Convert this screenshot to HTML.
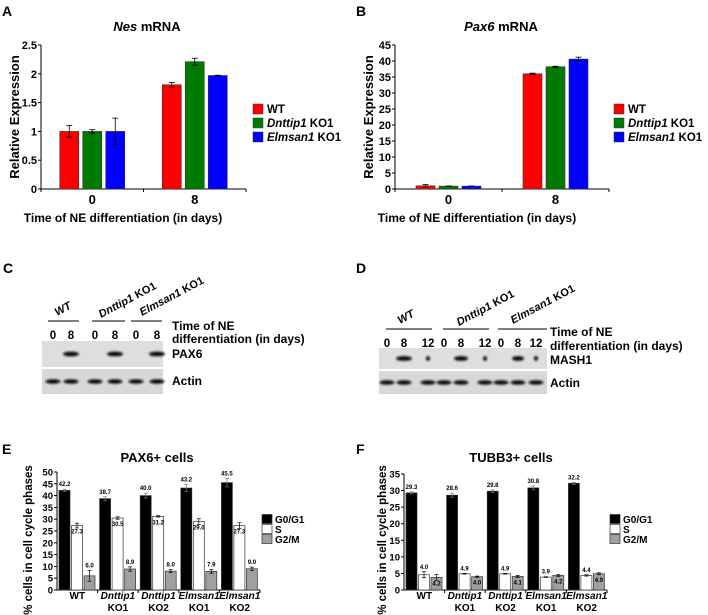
<!DOCTYPE html>
<html><head><meta charset="utf-8"><style>
html,body{margin:0;padding:0;background:#fff;}
svg{display:block;font-family:"Liberation Sans",Arial,sans-serif;}
</style></head><body>
<svg id="fig" width="708" height="615" viewBox="0 0 708 615" xmlns="http://www.w3.org/2000/svg">
<defs><filter id="blur" x="-50%" y="-50%" width="200%" height="200%"><feGaussianBlur stdDeviation="1.1"/></filter></defs>
<g id="root"></g>
</svg>
<script>
// ---- Data: panels A/B
const abCategories = ["0", "8"];
const abSeries = ["WT", "Dnttip1 KO1", "Elmsan1 KO1"];
const nesWT = [1, 1.81];
const nesDnttip = [1, 2.21];
const nesElmsan = [1, 1.97];
const nesErrWT = [0.1, 0.04];
const nesErrDnttip = [0.03, 0.06];
const nesErrElmsan = [0.23, 0.005];
const nesTicks = [0, 0.5, 1, 1.5, 2, 2.5];
const pax6WT = [1.0, 36.0];
const pax6Dnttip = [0.9, 38.2];
const pax6Elmsan = [0.9, 40.6];
const pax6ErrWT = [0.4, 0.2];
const pax6ErrDnttip = [0.05, 0.15];
const pax6ErrElmsan = [0.05, 0.6];
const pax6Ticks = [0, 5, 10, 15, 20, 25, 30, 35, 40, 45];
// ---- Data: panels E/F
const efCategories = [["WT",""], ["Dnttip1","KO1"], ["Dnttip1","KO2"], ["Elmsan1","KO1"], ["Elmsan1","KO2"]];
const phaseSeries = ["G0/G1", "S", "G2/M"];
const paxG0 = [42.2, 38.7, 40.0, 43.2, 45.5];
const paxS = [27.3, 30.5, 31.2, 29.0, 27.3];
const paxG2 = [6.0, 8.9, 8.0, 7.9, 9.0];
const paxErrG0 = [0.5, 0.8, 1.0, 1.5, 1.8];
const paxErrS = [1.0, 0.5, 0.3, 1.2, 1.2];
const paxErrG2 = [2.3, 0.9, 0.6, 0.8, 0.7];
const paxTicks = [0, 5, 10, 15, 20, 25, 30, 35, 40, 45, 50];
const tubG0 = [29.3, 28.6, 29.8, 30.8, 32.2];
const tubS = [4.6, 4.9, 4.9, 3.9, 4.4];
const tubG2 = [3.8, 4.0, 4.1, 4.4, 4.9];
const tubSLabels = ["4.0", "4.9", "4.9", "3.9", "4.4"];
const tubG2Labels = ["4.2", "4.0", "4.1", "4.2", "4.9"];
const tubErrG0 = [0.3, 0.6, 0.4, 0.6, 0.3];
const tubErrS = [0.9, 0.1, 0.1, 0.1, 0.2];
const tubErrG2 = [0.9, 0.2, 0.3, 0.3, 0.3];
const tubTicks = [0, 5, 10, 15, 20, 25, 30, 35];

const NS = "http://www.w3.org/2000/svg";
const root = document.getElementById("root");
function el(tag, attrs, parent) {
  const e = document.createElementNS(NS, tag);
  for (const k in attrs) e.setAttribute(k, attrs[k]);
  (parent || root).appendChild(e);
  return e;
}
function txt(x, y, s, size, opts, parent) {
  opts = opts || {};
  const t = el("text", {x: x, y: y, "font-size": size, "font-weight": opts.bold === false ? "normal" : "bold",
    "text-anchor": opts.anchor || "start", fill: "#000"}, parent);
  if (opts.rot) t.setAttribute("transform", "rotate(" + opts.rot + " " + x + " " + y + ")");
  if (opts.italic) t.setAttribute("font-style", "italic");
  t.textContent = s;
  return t;
}
function richLabel(x, y, italicPart, rest, size, anchor, parent) {
  const t = el("text", {x: x, y: y, "font-size": size, "font-weight": "bold", "text-anchor": anchor || "start"}, parent);
  const a = el("tspan", {"font-style": "italic"}, t); a.textContent = italicPart;
  if (rest) { const b = el("tspan", {}, t); b.textContent = rest; }
  return t;
}

// ---------- Panels A, B ----------
function abChart(ox, name, title, italicTitle, ticks, vals, errs, tickFmt) {
  const g = el("g", {});
  
  
  const x0 = ox + 41, y0 = 189, yTop = 45, xEnd = ox + (name === "nes-chart" ? 246 : 255);
  const maxV = ticks[ticks.length - 1];
  const yScale = v => y0 - (v / maxV) * (y0 - yTop);
  const half = (xEnd - x0) / 2;
  const bw = 19, gap = 4;
  const tt = richLabel(ox + 147, 31, italicTitle, " mRNA", 13, "middle", g);
  
  
  el("line", {x1: x0, y1: yTop, x2: x0, y2: y0, stroke: "#000", "stroke-width": 1}, g);
  el("line", {x1: x0, y1: y0, x2: xEnd, y2: y0, stroke: "#000", "stroke-width": 1}, g);
  ticks.forEach(t => {
    const y = yScale(t);
    el("line", {x1: x0 - 3, y1: y, x2: x0, y2: y, stroke: "#000"}, g);
    const l = txt(x0 - 4, y + 4, tickFmt(t), 11, {anchor: "end"}, g);
    
    
  });
  for (let i = 0; i <= abCategories.length; i++) {
    el("line", {x1: x0 + i * half, y1: y0, x2: x0 + i * half, y2: y0 + 3, stroke: "#000"}, g);
  }
  const colors = ["#ff0000", "#007a00", "#0000ff"];
  abCategories.forEach((c, ci) => {
    const cx = x0 + half * ci + half / 2;
    const start = cx - (3 * bw + 2 * gap) / 2;
    vals.forEach((series, si) => {
      const v = series[ci], bx = start + si * (bw + gap);
      const r = el("rect", {x: bx, y: yScale(v), width: bw, height: y0 - yScale(v), fill: colors[si], stroke: "#333", "stroke-width": 0.6}, g);
      
      
      const e = errs[si][ci], mx = bx + bw / 2;
      el("line", {x1: mx, y1: yScale(v + e), x2: mx, y2: yScale(v - e), stroke: "#000", "stroke-width": 0.8}, g);
      el("line", {x1: mx - 3, y1: yScale(v + e), x2: mx + 3, y2: yScale(v + e), stroke: "#000", "stroke-width": 0.8}, g);
      el("line", {x1: mx - 3, y1: yScale(v - e), x2: mx + 3, y2: yScale(v - e), stroke: "#000", "stroke-width": 0.8}, g);
    });
    const cl = txt(cx, 204, c, 13, {anchor: "middle"}, g);
    
    
  });
  const yl = txt(ox + 19, 117, "Relative Expression", 13, {anchor: "middle", rot: -90}, g);
  
  
  const xl = txt(ox + 123, 222, "Time of NE differentiation (in days)", 12, {anchor: "middle"}, g);
  
  
  const lx = ox + (name === "nes-chart" ? 253 : 260);
  abSeries.forEach((s, si) => {
    const y = 109 + si * 14;
    const sq = el("rect", {x: lx, y: y - 5, width: 10, height: 10, fill: colors[si], stroke: "#333", "stroke-width": 0.5}, g);
    
    
    const parts = s.split(" ");
    const lt = parts.length > 1 ? richLabel(lx + 14, y + 4, parts[0], " " + parts[1], 11.5, "start", g) : txt(lx + 14, y + 4, s, 11.5, {}, g);
    
    
  });
}
abChart(0, "nes-chart", "Nes mRNA", "Nes", nesTicks, [nesWT, nesDnttip, nesElmsan], [nesErrWT, nesErrDnttip, nesErrElmsan], t => String(t));
abChart(354, "pax6-chart", "Pax6 mRNA", "Pax6", pax6Ticks, [pax6WT, pax6Dnttip, pax6Elmsan], [pax6ErrWT, pax6ErrDnttip, pax6ErrElmsan], t => String(t));

[["A", 2, 16], ["B", 356, 16], ["C", 3, 273], ["D", 356, 273], ["E", 2, 454], ["F", 356, 454]].forEach(p => {
  const t = txt(p[1], p[2], p[0], 14, {});
  
  
});

// ---------- Blots C, D ----------
function blot(name, bx, bw, r1top, r1h, r2top, r2h, lanes, laneLabels, bandRow, groups, lineY, numY, labelTexts, textX) {
  const g = el("g", {});
  
  
  const r1 = el("rect", {x: bx, y: r1top, width: bw, height: r1h, fill: "#dedede"}, g);
  
  
  const r2 = el("rect", {x: bx, y: r2top, width: bw, height: r2h, fill: "#d8d8d8"}, g);
  
  
  lanes.forEach((lx, i) => {
    const w = bandRow[i];
    if (w > 0) el("ellipse", {cx: lx, cy: r1top + r1h / 2, rx: w, ry: 2.4, fill: "#111", filter: "url(#blur)"}, g);
    el("ellipse", {cx: lx, cy: r2top + r2h / 2, rx: 7.5, ry: 2.3, fill: "#111", filter: "url(#blur)"}, g);
    const n = txt(lx, numY, laneLabels[i], 11.5, {anchor: "middle"}, g);
    
    
  });
  groups.forEach(gr => {
    el("line", {x1: gr[0], y1: lineY, x2: gr[1], y2: lineY, stroke: "#333", "stroke-width": 1.3}, g);
    const parts = gr[2].split(" ");
    const t = parts.length > 1 ? richLabel(gr[3], gr[4], parts[0], " " + parts[1], 11, "start", g) : txt(gr[3], gr[4], gr[2], 11, {italic: true}, g);
    t.setAttribute("transform", "rotate(-28 " + gr[3] + " " + gr[4] + ")");
    
    
  });
  labelTexts.forEach(l => {
    const t = txt(textX, l[1], l[0], 12, {}, g);
    
    
  });
}
blot("western-blot-c", 42, 121, 341, 26, 369, 25, [53, 71, 95, 115, 136, 157], ["0","8","0","8","0","8"], [0, 8, 0, 8, 0, 8],
  [[48, 79, "WT", 57, 316], [92, 125, "Dnttip1 KO1", 101, 318], [131, 162, "Elmsan1 KO1", 142, 316]], 321, 339,
  [["Time of NE", 330], ["differentiation (in days)", 343], ["PAX6", 358], ["Actin", 385]], 172);
blot("western-blot-d", 379, 168, 348, 21, 371, 23, [387, 404, 428, 444, 461, 485, 501, 518, 536], ["0","8","12","0","8","12","0","8","12"],
  [0, 8, 2, 0, 7, 2, 0, 6, 2],
  [[386, 432, "WT", 400, 324], [443, 489, "Dnttip1 KO1", 459, 326], [498, 547, "Elmsan1 KO1", 513, 324]], 329, 347,
  [["Time of NE", 336], ["differentiation (in days)", 350], ["MASH1", 364], ["Actin", 387]], 550);

// ---------- Panels E, F ----------
function phaseChart(name, ox, yAxisX, xEnd, topY, title, ticks, series, errs, labels, legendX) {
  const g = el("g", {});
  
  
  const y0 = 590, maxV = ticks[ticks.length - 1];
  const yScale = v => y0 - (v / maxV) * (y0 - topY);
  const gw = (xEnd - yAxisX) / efCategories.length;
  const t = txt(ox + 157, 462, title, 13, {anchor: "middle"}, g);
  
  
  el("line", {x1: yAxisX, y1: topY, x2: yAxisX, y2: y0, stroke: "#000"}, g);
  el("line", {x1: yAxisX, y1: y0, x2: xEnd, y2: y0, stroke: "#000"}, g);
  ticks.forEach(tk => {
    const y = yScale(tk);
    el("line", {x1: yAxisX - 3, y1: y, x2: yAxisX, y2: y, stroke: "#000"}, g);
    const l = txt(yAxisX - 4, y + 3.5, String(tk), 9.5, {anchor: "end"}, g);
    
    
  });
  const fills = ["#000", "#fff", "#a0a0a0"];
  const bw = 11;
  efCategories.forEach((c, ci) => {
    const gx = yAxisX + gw * ci;
    el("line", {x1: gx + gw, y1: y0, x2: gx + gw, y2: y0 + 3, stroke: "#000"}, g);
    series.forEach((s, si) => {
      const v = s[ci], bx = gx + 2 + si * (bw + 1.5);
      const r = el("rect", {x: bx, y: yScale(v), width: bw, height: y0 - yScale(v), fill: fills[si], stroke: "#333", "stroke-width": 0.7}, g);
      
      
      const e = errs[si][ci], mx = bx + bw / 2;
      const ec = si === 0 ? "#777" : "#000";
      el("line", {x1: mx, y1: yScale(v + e), x2: mx, y2: yScale(v - e), stroke: ec, "stroke-width": 0.7}, g);
      el("line", {x1: mx - 2, y1: yScale(v + e), x2: mx + 2, y2: yScale(v + e), stroke: ec, "stroke-width": 0.7}, g);
      el("line", {x1: mx - 2, y1: yScale(v - e), x2: mx + 2, y2: yScale(v - e), stroke: ec, "stroke-width": 0.7}, g);
      const lbl = labels[si][ci];
      const ly = si === 0 ? yScale(v + e) - 3 : (si === 1 && name === "pax6-cells-chart") ? yScale(v) + 8 : (si === 2 && name === "tubb3-cells-chart") ? yScale(v) + 8 : yScale(v + e) - 3;
      const vt = txt(mx, ly, lbl, 6, {anchor: "middle"}, g);
      
      
    });
    const cx = gx + gw / 2;
    const l1 = c[1] ? txt(cx, 599, c[0], 10, {anchor: "middle", italic: true}, g) : txt(cx, 599, c[0], 10, {anchor: "middle"}, g);
    
    
    if (c[1]) {
      const l2 = txt(cx, 611, c[1], 10, {anchor: "middle"}, g);
      
      
    }
  });
  const yl = txt(ox + 32, 540, "% cells in cell cycle phases", 11.5, {anchor: "middle", rot: -90}, g);
  
  
  phaseSeries.forEach((s, si) => {
    const y = 519 + si * 10;
    const sq = el("rect", {x: legendX, y: y - 4.5, width: 10, height: 9, fill: fills[si], stroke: "#333", "stroke-width": 0.7}, g);
    
    
    const lt = txt(legendX + 13, y + 4, s, 10, {}, g);
    
    
  });
}
phaseChart("pax6-cells-chart", 0, 57, 260, 472, "PAX6+ cells", paxTicks, [paxG0, paxS, paxG2], [paxErrG0, paxErrS, paxErrG2],
  [paxG0.map(v => v.toFixed(1)), paxS.map(v => v.toFixed(1)), paxG2.map(v => v.toFixed(1))], 262);
phaseChart("tubb3-cells-chart", 354, 404, 607, 474, "TUBB3+ cells", tubTicks, [tubG0, tubS, tubG2], [tubErrG0, tubErrS, tubErrG2],
  [tubG0.map(v => v.toFixed(1)), tubSLabels, tubG2Labels], 610);
</script>
</body></html>
